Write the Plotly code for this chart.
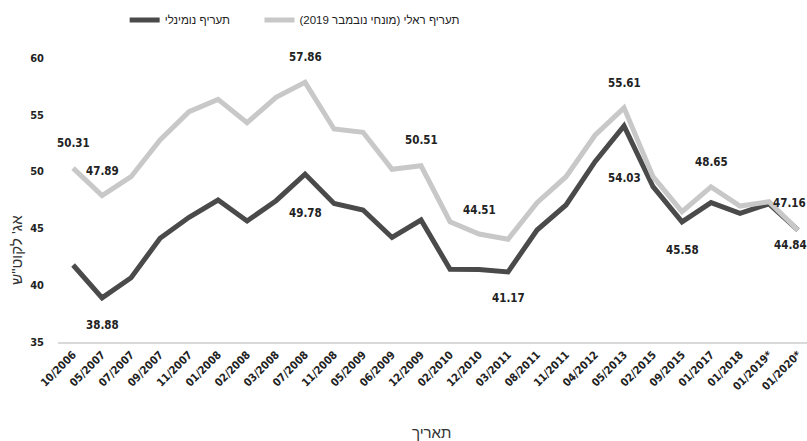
import plotly.graph_objects as go

categories = ["10/2006", "05/2007", "07/2007", "09/2007", "11/2007", "01/2008", "02/2008",
              "03/2008", "07/2008", "11/2008", "05/2009", "06/2009", "12/2009", "02/2010",
              "12/2010", "03/2011", "08/2011", "11/2011", "04/2012", "05/2013", "02/2015",
              "09/2015", "01/2017", "01/2018", "01/2019*", "01/2020*"]

nominal = [41.78, 38.88, 40.66, 44.13, 45.98, 47.50, 45.65, 47.44, 49.78, 47.20, 46.62,
           44.20, 45.74, 41.40, 41.38, 41.17, 44.86, 47.06, 50.87, 54.03, 48.67, 45.58,
           47.27, 46.33, 47.16, 44.84]

real = [50.31, 47.89, 49.55, 52.78, 55.27, 56.36, 54.30, 56.54, 57.86, 53.75, 53.46,
        50.20, 50.51, 45.59, 44.51, 44.04, 47.27, 49.55, 53.20, 55.61, 49.55, 46.47,
        48.65, 46.97, 47.35, 44.84]

name_nominal = "תעריף נומינלי"
name_real = "תעריף ראלי (מונחי נובמבר 2019)"
y_title = "אג' לקוט\"ש"
x_title = "תאריך"
y_ticks = [35, 40, 45, 50, 55, 60]

# labelled points: (index, vertical shift in px)
labels_real = [(0, 25), (1, 25), (8, 25), (12, 26), (14, 24), (19, 25), (22, 25)]
labels_nominal = [(1, -27), (8, -39), (15, -26), (19, -52), (21, -28)]

FONT = "DejaVu Sans Condensed, DejaVu Sans, sans-serif"
DARK = "#4a4a4a"
LIGHT = "#c8c8c8"
LBL = dict(family=FONT, size=11.5, color="#222222", weight="bold")

fig = go.Figure()
fig.add_trace(go.Scatter(x=categories, y=nominal, mode="lines", name=name_nominal,
                         line=dict(color=DARK, width=5), legend="legend"))
fig.add_trace(go.Scatter(x=categories, y=real, mode="lines", name=name_real,
                         line=dict(color=LIGHT, width=5), legend="legend2"))

anns = []
for i, s in labels_real:
    anns.append(dict(x=categories[i], y=real[i], text=f"{real[i]:.2f}", showarrow=False,
                     yshift=s, font=LBL))
for i, s in labels_nominal:
    anns.append(dict(x=categories[i], y=nominal[i], text=f"{nominal[i]:.2f}", showarrow=False,
                     yshift=s, font=LBL))
anns.append(dict(x=categories[24], y=nominal[24], text=f"{nominal[24]:.2f}", showarrow=False,
                 xshift=20, yshift=1, font=LBL))
anns.append(dict(x=categories[25], y=real[25], text=f"{real[25]:.2f}", showarrow=False,
                 xshift=-8, yshift=-15, font=LBL))
anns.append(dict(xref="paper", yref="paper", x=-0.055, y=0.324, xanchor="center", yanchor="middle",
                 text=y_title, textangle=-90, showarrow=False,
                 font=dict(family="Liberation Sans, Arial, sans-serif", size=15, color="#333333")))
anns.append(dict(xref="paper", yref="paper", x=0.499, y=-0.317, xanchor="center", yanchor="middle",
                 text=x_title, showarrow=False,
                 font=dict(family="Liberation Sans, Arial, sans-serif", size=15, color="#333333")))

legfont = dict(family="Liberation Sans, Arial, sans-serif", size=11.5, color="#222222")
fig.update_layout(
    width=807, height=441,
    margin=dict(l=58, r=0, t=58, b=99),
    paper_bgcolor="white", plot_bgcolor="white",
    showlegend=True,
    legend=dict(orientation="h", x=0.089, y=1.134, xanchor="left", yanchor="middle",
                font=legfont, bgcolor="rgba(0,0,0,0)"),
    legend2=dict(orientation="h", x=0.269, y=1.134, xanchor="left", yanchor="middle",
                 font=legfont, bgcolor="rgba(0,0,0,0)"),
    annotations=anns,
    xaxis=dict(type="category", range=[-0.52, 25.31], showgrid=False, zeroline=False,
               showline=True, linecolor="#d9d9d9", linewidth=2, ticks="",
               tickangle=-45, tickfont=dict(family=FONT, size=11, color="#222222", weight="bold")),
    yaxis=dict(range=[35, 60], tickvals=y_ticks, showgrid=False, zeroline=False,
               showline=False, ticks="", ticklabelstandoff=13,
               tickfont=dict(family=FONT, size=11, color="#222222", weight="bold")),
)

fig.write_html("out.html", config={"displayModeBar": False},
               post_script="document.body.style.margin='0';document.body.style.padding='0';")
